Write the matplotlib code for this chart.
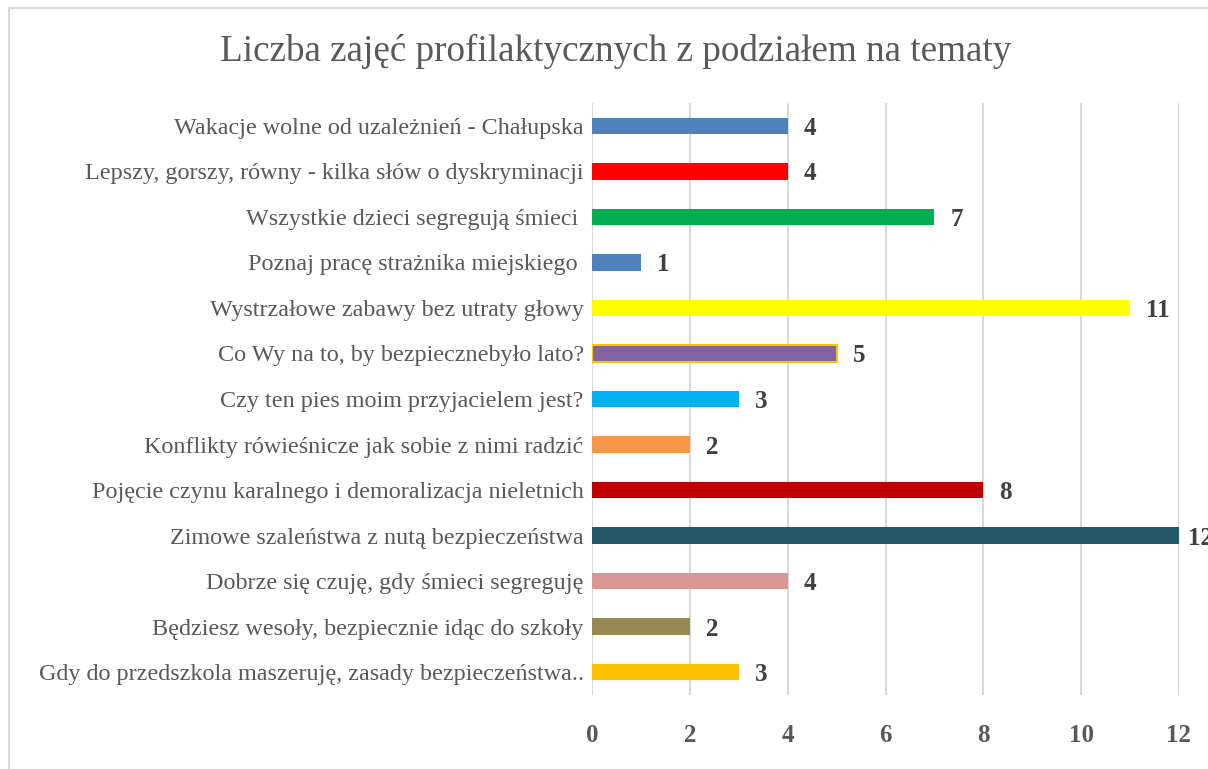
import matplotlib
matplotlib.use("Agg")
import matplotlib.pyplot as plt
from matplotlib.patches import Rectangle

categories = [
    "Wakacje wolne od uzależnień - Chałupska",
    "Lepszy, gorszy, równy - kilka słów o dyskryminacji",
    "Wszystkie dzieci segregują śmieci ",
    "Poznaj pracę strażnika miejskiego ",
    "Wystrzałowe zabawy bez utraty głowy",
    "Co Wy na to, by bezpiecznebyło lato?",
    "Czy ten pies moim przyjacielem jest?",
    "Konflikty rówieśnicze jak sobie z nimi radzić",
    "Pojęcie czynu karalnego i demoralizacja nieletnich",
    "Zimowe szaleństwa z nutą bezpieczeństwa",
    "Dobrze się czuję, gdy śmieci segreguję",
    "Będziesz wesoły, bezpiecznie idąc do szkoły",
    "Gdy do przedszkola maszeruję, zasady bezpieczeństwa..",
]
values = [4, 4, 7, 1, 11, 5, 3, 2, 8, 12, 4, 2, 3]
colors = ["#4F81BD", "#FF0000", "#00B050", "#4F81BD", "#FFFF00", "#8064A2",
          "#00B0F0", "#F79646", "#C00000", "#215968", "#D99694", "#948A54", "#FFC000"]
edgecolors = [None, None, None, None, None, "#FFC000", None, None, None, None, None, None, None]
xticks = [0, 2, 4, 6, 8, 10, 12]
title = "Liczba zajęć profilaktycznych z podziałem na tematy"

W, H = 1208, 769
fig = plt.figure(figsize=(W / 100, H / 100), dpi=100)
fig.patch.set_facecolor("white")

# chart border
fig.patches.append(Rectangle((9 / W, -0.1), 1.2, 1 - 8 / H + 0.1, transform=fig.transFigure,
                             fill=False, edgecolor="#D9D9D9", linewidth=1.5))

left, right = 592 / W, 1179 / W
top, bottom = 1 - 103 / H, 1 - 695 / H
ax = fig.add_axes([left, bottom, right - left, top - bottom])

ypos = list(range(len(categories)))
for i, (v, c, ec) in enumerate(zip(values, colors, edgecolors)):
    ax.barh(i, v, height=0.36, color=c,
            edgecolor=ec if ec else "none", linewidth=1.5 if ec else 0, zorder=3)
    off = 0.33 if v < 12 else 0.18
    ax.text(v + off, i, str(v), va="center_baseline", ha="left", fontsize=18,
            fontweight="bold", color="#404040", family="Liberation Serif",
            clip_on=False)

ax.set_xlim(0, 12)
ax.set_ylim(len(categories) - 0.5, -0.5)
ax.set_xticks(xticks)
ax.set_xticklabels([str(t) for t in xticks], fontsize=18, fontweight="bold",
                   color="#595959", family="Liberation Serif")
ax.set_yticks(ypos)
ax.set_yticklabels(categories, fontsize=17.4, color="#595959", family="Liberation Serif",
                   va="center_baseline")
ax.tick_params(axis="both", length=0)
ax.tick_params(axis="x", pad=21)
ax.tick_params(axis="y", pad=6)
ax.grid(axis="x", color="#D9D9D9", linewidth=1.5, zorder=0)
for s in ax.spines.values():
    s.set_visible(False)

fig.text(616 / W, 1 - 51 / H, title, ha="center", va="center", fontsize=26.7,
         color="#595959", family="Liberation Serif")

fig.savefig("out.png", dpi=100)
